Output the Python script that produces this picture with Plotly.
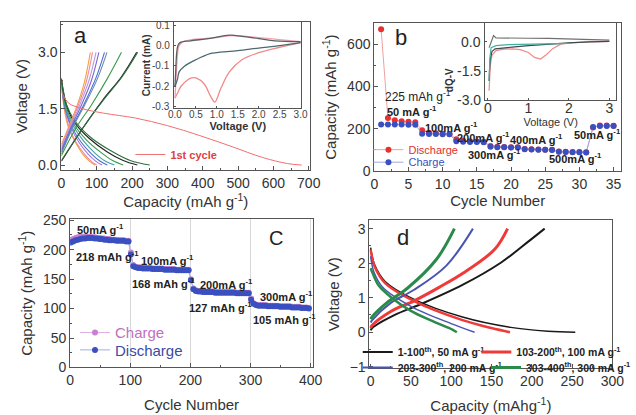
import plotly.graph_objects as go

W, H = 636, 415
FONT = "Liberation Sans, Arial, sans-serif"
TXT = "#333333"

# ---------------- Panel a : charge/discharge profiles ----------------
a_first_cap = [0, 20, 60, 120, 210, 300, 390, 480, 570, 640, 680]
a_first_v = [1.95, 1.65, 1.5, 1.38, 1.25, 1.05, 0.79, 0.5, 0.2, 0.04, 0.0]

a_dis_colors = ["#f5a040", "#f08aa0", "#9a7ad8", "#4a6fd0", "#40a0a8", "#3a9a4a", "#222222", "#2e6e3e"]
a_dis_caps = [
    [0, 8, 20, 40, 60, 80, 95],
    [0, 9, 22, 42, 65, 85, 100],
    [0, 10, 25, 50, 75, 98, 115],
    [0, 11, 28, 55, 85, 110, 130],
    [0, 12, 30, 62, 95, 125, 150],
    [0, 13, 33, 70, 110, 145, 175],
    [0, 14, 36, 80, 130, 175, 215],
    [0, 15, 38, 85, 140, 195, 250],
]
a_dis_volts = [
    [2.3, 1.5, 1.0, 0.6, 0.3, 0.1, 0.0],
    [2.3, 1.5, 1.0, 0.6, 0.3, 0.1, 0.0],
    [2.2, 1.5, 1.05, 0.6, 0.3, 0.1, 0.0],
    [2.2, 1.5, 1.05, 0.62, 0.3, 0.1, 0.0],
    [2.2, 1.5, 1.1, 0.65, 0.32, 0.1, 0.0],
    [2.25, 1.55, 1.12, 0.68, 0.35, 0.12, 0.0],
    [2.3, 1.6, 1.15, 0.7, 0.35, 0.12, 0.0],
    [2.3, 1.6, 1.18, 0.72, 0.38, 0.12, 0.0],
]
a_chg_colors = ["#f5a040", "#f08aa0", "#b99ae0", "#7a6ad0", "#4a6fd0", "#6a8ab0", "#3a9a4a", "#222222", "#2e6e3e"]
a_chg_caps = [
    [0, 20, 45, 65, 82],
    [0, 22, 48, 70, 88],
    [0, 25, 52, 78, 98],
    [0, 27, 57, 85, 106],
    [0, 30, 63, 97, 122],
    [0, 32, 66, 102, 129],
    [0, 42, 85, 130, 170],
    [0, 62, 117, 170, 213],
    [0, 60, 118, 172, 216],
]
a_chg_volts = [
    [0.55, 1.0, 1.6, 2.2, 3.0],
    [0.5, 1.0, 1.6, 2.2, 3.0],
    [0.45, 1.0, 1.6, 2.25, 3.0],
    [0.4, 1.0, 1.6, 2.25, 3.0],
    [0.35, 1.0, 1.6, 2.3, 3.0],
    [0.3, 1.0, 1.6, 2.3, 3.0],
    [0.25, 1.0, 1.6, 2.3, 3.0],
    [0.1, 1.0, 1.73, 2.35, 3.0],
    [0.12, 0.98, 1.72, 2.35, 3.0],
]

# inset a : cyclic voltammetry
cv1_cath_v = [3.0, 2.5, 2.0, 1.6, 1.3, 1.1, 0.95, 0.85, 0.7, 0.5, 0.4, 0.3, 0.15, 0.05, 0.0]
cv1_cath_i = [0.015, -0.008, -0.035, -0.07, -0.13, -0.21, -0.28, -0.25, -0.19, -0.16, -0.16, -0.17, -0.2, -0.24, -0.26]
cv1_anod_v = [0.0, 0.03, 0.06, 0.1, 0.2, 0.4, 0.7, 1.0, 1.35, 1.6, 2.0, 2.5, 3.0]
cv1_anod_i = [-0.26, -0.15, -0.05, 0.0, 0.02, 0.03, 0.035, 0.04, 0.05, 0.048, 0.04, 0.03, 0.02]
cv_cath_v = [3.0, 2.5, 2.0, 1.5, 1.0, 0.84, 0.5, 0.22, 0.1, 0.06, 0.02, 0.0]
cv_cath_i = [0.015, 0.0, -0.012, -0.025, -0.035, -0.04, -0.07, -0.103, -0.13, -0.167, -0.19, -0.2]
cv_anod_v = [0.0, 0.02, 0.04, 0.07, 0.12, 0.37, 0.8, 1.3, 1.6, 2.0, 2.39, 3.0]
cv_anod_i = [-0.2, -0.12, -0.04, 0.0, 0.015, 0.024, 0.035, 0.052, 0.046, 0.035, 0.024, 0.02]
cv_yticks = [-0.3, -0.2, -0.1, 0.0, 0.1]

# ---------------- Panel b : rate capability ----------------
b_cycles = list(range(1, 36))
b_discharge = [670, 250, 240, 235, 232, 230, 192, 180, 178, 176, 175, 150, 142, 140, 139, 138,
               118, 114, 113, 112, 112, 104, 102, 101, 100, 100, 92, 90, 89, 89, 88, 205, 215, 215, 214]
b_charge = [220, 220, 219, 219, 218, 218, 176, 174, 174, 173, 173, 140, 138, 137, 137, 136,
            114, 112, 112, 111, 111, 102, 101, 100, 100, 99, 90, 89, 88, 88, 87, 208, 212, 212, 212]

# inset b : dQ/dV
dq_red_v = [3.0, 2.5, 2.0, 1.8, 1.6, 1.45, 1.3, 1.15, 1.0, 0.8, 0.6, 0.4, 0.2, 0.1, 0.06, 0.04, 0.03]
dq_red = [0.02, 0.0, -0.06, -0.12, -0.35, -0.65, -0.88, -0.8, -0.55, -0.4, -0.36, -0.38, -0.45, -0.7, -1.2, -2.0, -2.5]
dq_dark_v = [3.0, 2.5, 2.0, 1.5, 1.0, 0.6, 0.3, 0.18, 0.1, 0.06, 0.04, 0.03]
dq_dark = [0.02, 0.0, -0.06, -0.12, -0.2, -0.27, -0.33, -0.36, -0.5, -0.9, -1.5, -2.0]
dq_teal_v = [2.0, 1.5, 1.0, 0.5, 0.2, 0.08, 0.05, 0.04, 0.03]
dq_teal = [-0.08, -0.1, -0.12, -0.15, -0.2, -0.3, -0.8, -1.5, -2.0]
dq_anod_v = [0.03, 0.06, 0.1, 0.14, 0.2, 0.5, 1.0, 1.5, 2.0, 2.5, 3.0]
dq_anod = [-0.3, -0.1, 0.1, 0.32, 0.2, 0.18, 0.18, 0.17, 0.15, 0.12, 0.08]
dq_yticks = [-3.0, -1.5, 0.0]

# ---------------- Panel c : long cycling ----------------
c_cycles = list(range(1, 401, 4))
c_discharge = [212, 214, 216, 217, 218, 219, 219, 220, 220, 220, 219, 219, 218, 218, 217, 217, 216, 216, 216, 215, 215, 215, 215, 214, 214,
               192, 172, 170, 169, 169, 168, 168, 168, 168, 167, 167, 167, 167, 167, 166, 166, 166, 166, 166, 165, 165, 165, 165, 165, 165,
               148, 133, 130, 129, 129, 128, 128, 128, 128, 128, 127, 127, 127, 127, 127, 127, 127, 127, 127, 126, 126, 126, 126, 126, 126,
               115, 108, 106, 105, 105, 105, 105, 104, 104, 104, 104, 104, 103, 103, 103, 103, 103, 102, 102, 102, 102, 101, 101, 101, 100]
c_charge = [216, 218, 220, 221, 222, 222, 222, 222, 222, 221, 221, 220, 220, 219, 219, 218, 218, 217, 217, 217, 216, 216, 216, 215, 215,
            195, 174, 171, 170, 170, 169, 169, 169, 169, 168, 168, 168, 168, 168, 167, 167, 167, 167, 167, 166, 166, 166, 166, 166, 166,
            150, 134, 131, 130, 130, 129, 129, 129, 129, 129, 128, 128, 128, 128, 128, 128, 128, 128, 128, 127, 127, 127, 127, 127, 127,
            117, 109, 107, 106, 106, 106, 106, 105, 105, 105, 105, 105, 104, 104, 104, 104, 104, 103, 103, 103, 103, 102, 102, 102, 101]

# ---------------- Panel d : profiles at different rates ----------------
d_names = ["1-100<sup>th</sup>, 50 mA g<sup>-1</sup>", "103-200<sup>th</sup>, 100 mA g<sup>-1</sup>",
           "203-300<sup>th</sup>, 200 mA g<sup>-1</sup>", "303-400<sup>th</sup>, 300 mA g<sup>-1</sup>"]
d_colors = ["#1a1a1a", "#f03a3a", "#4a55b0", "#2a8a4a"]
d_chg_cap = [[0, 2, 30, 62, 114, 162, 196, 216],
             [0, 2, 25, 54, 85, 114, 154, 170],
             [0, 2, 25, 54, 94, 127],
             [0, 2, 20, 46, 82, 104]]
d_chg_v = [[0.05, 0.12, 0.5, 0.81, 1.37, 2.02, 2.63, 3.0],
           [0.12, 0.2, 0.6, 0.91, 1.3, 1.7, 2.4, 3.0],
           [0.28, 0.35, 0.85, 1.23, 1.93, 3.0],
           [0.38, 0.45, 0.85, 1.28, 2.12, 3.0]]
d_dis_cap = [[0, 5, 18, 54, 114, 174, 220, 254],
             [0, 5, 18, 54, 114, 150, 173],
             [0, 4, 15, 50, 100, 129],
             [0, 2, 10, 26, 50, 74, 102, 107]]
d_dis_v = [[2.45, 1.95, 1.47, 0.95, 0.44, 0.14, 0.03, 0.0],
           [2.4, 1.9, 1.42, 0.9, 0.35, 0.12, 0.0],
           [2.2, 1.75, 1.3, 0.75, 0.25, 0.0],
           [1.85, 1.74, 1.35, 1.0, 0.62, 0.35, 0.07, 0.0]]
d_widths = [2, 3, 2, 3]
d_legends = ["legend3", "legend4", "legend8", "legend9"]

fig = go.Figure()

# panel a traces
for caps, volts, col in zip(a_dis_caps, a_dis_volts, a_dis_colors):
    fig.add_trace(go.Scatter(x=caps, y=volts, mode="lines", line=dict(color=col, width=1.1, shape="spline"),
                             xaxis="x", yaxis="y", showlegend=False))
for caps, volts, col in zip(a_chg_caps, a_chg_volts, a_chg_colors):
    fig.add_trace(go.Scatter(x=caps, y=volts, mode="lines", line=dict(color=col, width=1.1, shape="spline"),
                             xaxis="x", yaxis="y", showlegend=False))
fig.add_trace(go.Scatter(x=a_first_cap, y=a_first_v, mode="lines", name="<b>1st cycle</b>",
                         line=dict(color="#f07070", width=1, shape="spline"),
                         xaxis="x", yaxis="y", legend="legend5"))

# inset a
for vx, iy, col in [(cv1_cath_v, cv1_cath_i, "#f08a8a"), (cv1_anod_v, cv1_anod_i, "#f0a0b0"),
                    (cv_cath_v, cv_cath_i, "#4a6a70"), (cv_anod_v, cv_anod_i, "#5a6060")]:
    fig.add_trace(go.Scatter(x=vx, y=iy, mode="lines", line=dict(color=col, width=1.3, shape="spline"),
                             xaxis="x2", yaxis="y2", showlegend=False))

# panel b
fig.add_trace(go.Scatter(x=b_cycles, y=b_discharge, mode="lines+markers",
                         name='<span style="color:#e03030">Discharge</span>',
                         line=dict(color="#f0a0a0", width=1), marker=dict(color="#e83030", size=6),
                         xaxis="x3", yaxis="y3", legend="legend"))
fig.add_trace(go.Scatter(x=b_cycles, y=b_charge, mode="lines+markers",
                         name='<span style="color:#3a4fc0">Charge</span>',
                         line=dict(color="#9aaae0", width=1), marker=dict(color="#3a4fc0", size=6),
                         xaxis="x3", yaxis="y3", legend="legend6"))

# inset b
for vx, dy, col in [(dq_red_v, dq_red, "#f08a8a"), (dq_dark_v, dq_dark, "#3a4a50"),
                    (dq_teal_v, dq_teal, "#40b0a0"), (dq_anod_v, dq_anod, "#707070")]:
    fig.add_trace(go.Scatter(x=vx, y=dy, mode="lines", line=dict(color=col, width=1.2),
                             xaxis="x4", yaxis="y4", showlegend=False))

# panel c
fig.add_trace(go.Scatter(x=c_cycles, y=c_charge, mode="lines+markers",
                         name='<span style="color:#c070c0">Charge</span>',
                         line=dict(color="#e0b0e0", width=1), marker=dict(color="#c880d0", size=6),
                         xaxis="x5", yaxis="y5", legend="legend2"))
fig.add_trace(go.Scatter(x=c_cycles, y=c_discharge, mode="lines+markers",
                         name='<span style="color:#3a4aa8">Discharge</span>',
                         line=dict(color="#a0b0e0", width=1), marker=dict(color="#3a4fc0", size=6),
                         xaxis="x5", yaxis="y5", legend="legend7"))

# panel d
for k in range(4):
    fig.add_trace(go.Scatter(x=d_dis_cap[k], y=d_dis_v[k], mode="lines",
                             line=dict(color=d_colors[k], width=d_widths[k] - 0.5, shape="spline"),
                             xaxis="x6", yaxis="y6", showlegend=False))
    fig.add_trace(go.Scatter(x=d_chg_cap[k], y=d_chg_v[k], mode="lines", name="<b>" + d_names[k] + "</b>",
                             line=dict(color=d_colors[k], width=d_widths[k], shape="spline"),
                             xaxis="x6", yaxis="y6", legend=d_legends[k]))


def dom(x0, x1, y0, y1):
    return [x0 / W, x1 / W], [1 - y1 / H, 1 - y0 / H]


def axis_style(**kw):
    base = dict(showline=True, linecolor="#555555", linewidth=1, mirror=True, ticks="inside",
                ticklen=4, tickcolor="#555555", showgrid=False, zeroline=False,
                tickfont=dict(family=FONT, size=14, color=TXT),
                title_font=dict(family=FONT, size=15, color=TXT))
    base.update(kw)
    return base


def one_legend(px, py, size, color=None):
    f = dict(family=FONT, size=size)
    if color:
        f["color"] = color
    return dict(x=px / W, y=1 - py / H, xanchor="left", yanchor="middle", bgcolor="rgba(0,0,0,0)",
                font=f, tracegroupgap=0)


XA2_LEFT, XB2_LEFT = 173, 493
xa, ya = dom(57, 313, 16, 169)
xa2, ya2 = dom(XA2_LEFT, 304, 16, 105)
xb, yb = dom(379, 633, 17, 170)
xb2, yb2 = dom(XB2_LEFT, 628, 17, 97)
xc, yc = dom(66, 316, 220, 374)
xd, yd = dom(374, 624, 221, 375)

small = dict(family=FONT, size=10, color="#444444")

fig.update_layout(
    width=W, height=H, margin=dict(l=0, r=0, t=0, b=0),
    paper_bgcolor="white", plot_bgcolor="rgba(0,0,0,0)",
    font=dict(family=FONT, color=TXT),
    xaxis=axis_style(domain=xa, anchor="y", range=[0, 704], tickvals=[0, 100, 200, 300, 400, 500, 600, 700],
                     minor=dict(ticks="inside", ticklen=2, dtick=50, tickcolor="#555555"),
                     title=dict(text="Capacity (mAh g<sup>-1</sup>)", standoff=4)),
    yaxis=axis_style(domain=ya, anchor="x", range=[-0.128, 3.795], tickvals=[0, 1.5, 3.0], tickformat=".1f",
                     minor=dict(ticks="inside", ticklen=2, dtick=0.75, tickcolor="#555555"),
                     title=dict(text="Voltage (V)", standoff=6)),
    xaxis2=axis_style(domain=xa2, anchor="y2", range=[-0.02, 3.02], tickvals=[0, 0.5, 1, 1.5, 2, 2.5, 3],
                      tickformat=".1f", ticklen=2, ticklabelstandoff=-3,
                      tickfont=small, title=dict(text="<b>Voltage (V)</b>", standoff=0,
                                                 font=dict(family=FONT, size=11, color=TXT))),
    yaxis2=axis_style(domain=ya2, anchor="x2", range=[-0.31, 0.115], tickvals=cv_yticks, showticklabels=False,
                      ticklen=2, title=dict(text="<b>Current (mA)</b>", standoff=20,
                                            font=dict(family=FONT, size=10, color=TXT))),
    xaxis3=axis_style(domain=xb, anchor="y3", range=[0, 36.1], dtick=5,
                      minor=dict(ticks="inside", ticklen=2, dtick=2.5, tickcolor="#555555"),
                      title=dict(text="Cycle Number", standoff=4)),
    yaxis3=axis_style(domain=yb, anchor="x3", range=[0, 698], dtick=200,
                      minor=dict(ticks="inside", ticklen=2, dtick=100, tickcolor="#555555"),
                      title=dict(text="Capacity (mAh g<sup>-1</sup>)", standoff=6)),
    xaxis4=axis_style(domain=xb2, anchor="y4", range=[-0.07, 3.17], tickvals=[0, 1, 2, 3], ticklen=2,
                      ticklabelstandoff=-5,
                      title=dict(text="Voltage (V)", standoff=1, font=dict(family=FONT, size=11, color=TXT))),
    yaxis4=axis_style(domain=yb2, anchor="x4", range=[-3.0, 0.94], tickvals=dq_yticks, showticklabels=False,
                      ticklen=2),
    xaxis5=axis_style(domain=xc, anchor="y5", range=[0, 404], dtick=100, showgrid=True, gridcolor="#d8d8d8",
                      minor=dict(ticks="inside", ticklen=2, dtick=50, tickcolor="#555555"),
                      title=dict(text="Cycle Number", standoff=12)),
    yaxis5=axis_style(domain=yc, anchor="x5", range=[0, 252], dtick=50,
                      minor=dict(ticks="inside", ticklen=2, dtick=25, tickcolor="#555555"),
                      title=dict(text="Capacity (mAh g<sup>-1</sup>)", standoff=6)),
    xaxis6=axis_style(domain=xd, anchor="y6", range=[-1.5, 300], dtick=50,
                      minor=dict(ticks="inside", ticklen=2, dtick=25, tickcolor="#555555"),
                      title=dict(text="Capacity (mAhg<sup>-1</sup>)", standoff=12)),
    yaxis6=axis_style(domain=yd, anchor="x6", range=[-1.05, 3.25], dtick=1,
                      minor=dict(ticks="inside", ticklen=2, dtick=0.5, tickcolor="#555555"),
                      title=dict(text="Voltage (V)", standoff=6)),
    legend=one_legend(373, 148, 11),
    legend6=one_legend(373, 161, 11),
    legend2=one_legend(71, 338, 15),
    legend7=one_legend(71, 356, 15),
    legend3=one_legend(362, 358, 10.5, "#222222"),
    legend4=one_legend(484, 358, 10.5, "#222222"),
    legend8=one_legend(362, 374, 10.5, "#222222"),
    legend9=one_legend(494, 374, 10.5, "#222222"),
    legend5=one_legend(128, 153, 11, "#e04040"),
)

# inset y tick labels, placed at their values on the inset axes
for v in cv_yticks:
    fig.add_annotation(x=(XA2_LEFT - 2) / W, xref="paper", y=v, yref="y2", showarrow=False,
                       text=f"{v:.1f}", xanchor="right", yanchor="middle", font=small)
for v in dq_yticks:
    fig.add_annotation(x=(XB2_LEFT - 2) / W, xref="paper", y=v, yref="y4", showarrow=False,
                       text=f"{v:.1f}", xanchor="right", yanchor="middle",
                       font=dict(family=FONT, size=14, color=TXT))

ann = [
    ("a", 77, 30, 22, False), ("b", 406, 32, 22, False), ("C", 278, 240, 20, False), ("d", 409, 239, 22, False),
    ("225 mAh g<sup>-1</sup>", 424, 92, 12, False),
    ("50 mA g<sup>-1</sup>", 418, 108, 11, True),
    ("100mA g<sup>-1</sup>", 458, 125, 11, True),
    ("200mA g<sup>-1</sup>", 491, 135, 11, True),
    ("400mA g<sup>-1</sup>", 546, 137, 11, True),
    ("300mA g<sup>-1</sup>", 503, 152, 11, True),
    ("500mA g<sup>-1</sup>", 586, 157, 11, True),
    ("50mA g<sup>-1</sup>", 609, 132, 11, True),
    ("50mA g<sup>-1</sup>", 97, 230, 11, True),
    ("218 mAh g<sup>-1</sup>", 104, 258, 11, True),
    ("100mA g<sup>-1</sup>", 166, 262, 11, True),
    ("168 mAh g<sup>-1</sup>", 162, 286, 11, True),
    ("200mA g<sup>-1</sup>", 227, 287, 11, True),
    ("127 mAh g<sup>-1</sup>", 221, 311, 11, True),
    ("300mA g<sup>-1</sup>", 289, 300, 11, True),
    ("105 mAh g<sup>-1</sup>", 287, 324, 11, True),
]
for text, px, py, size, bold in ann:
    fig.add_annotation(x=px / W, y=1 - py / H, xref="paper", yref="paper", showarrow=False,
                       text=("<b>" + text + "</b>") if bold else text,
                       font=dict(family=FONT, size=size, color="#222222"), xanchor="center", yanchor="middle")

# inset b y-axis title (sits over its tick labels, as in the original)
fig.add_annotation(x=464 / W, y=1 - 61 / H, xref="paper", yref="paper", showarrow=False, textangle=-90,
                   text="<b>dQ-V</b>", font=dict(family=FONT, size=10, color=TXT))

fig.write_html("out.html")
